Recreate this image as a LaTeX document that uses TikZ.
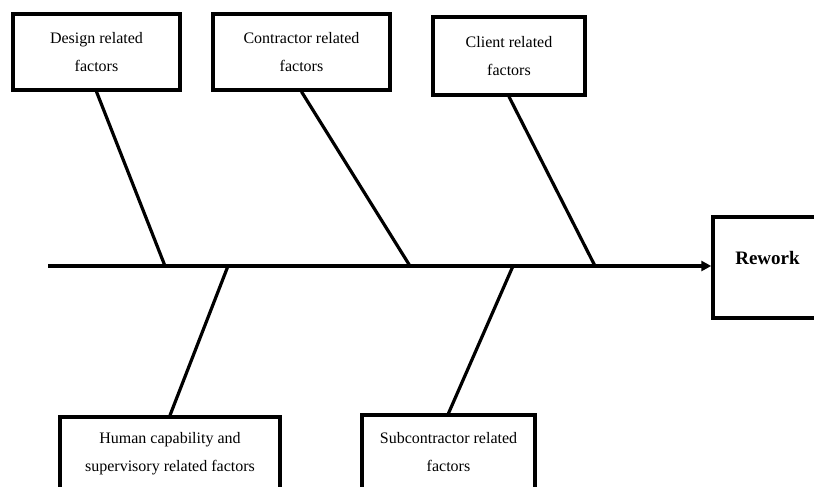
\documentclass[tikz,border=0pt]{standalone}
\usepackage{fontspec}
\setmainfont{Liberation Serif}
\usetikzlibrary{arrows.meta}

\begin{document}
\begin{tikzpicture}[x=1pt,y=-1pt,
  factor/.style={draw, line width=3.4pt, align=center, inner sep=0pt, font=\fontsize{16}{28}\selectfont},
  bone/.style={line width=3.2pt}]
\clip (0,0) rectangle (814,487);
\fill[white] (0,0) rectangle (814,487);

% cause boxes
\node[factor, minimum width=167, minimum height=76] (design) at (96.5,52) {Design related\\factors};
\node[factor, minimum width=177, minimum height=76] (contractor) at (301.5,52) {Contractor related\\factors};
\node[factor, minimum width=152, minimum height=78] (client) at (509,56) {Client related\\factors};
\node[factor, minimum width=220, minimum height=74] (human) at (170,454) {Human capability and\\supervisory related factors};
\node[factor, minimum width=173, minimum height=75] (sub) at (448.5,452.5) {Subcontractor related\\factors};
\node[factor, minimum width=109, minimum height=101,
  label={[font=\fontsize{19}{22}\selectfont\bfseries, yshift=10pt]center:Rework}] (rework) at (767.5,267.5) {};

% spine
\coordinate (tail) at (48,266);
\draw[bone, -{Triangle[length=10pt,width=10pt]}] (tail) -- (tail -| rework.west);

% bones
\foreach \n/\a/\xpos in {design/south/165, contractor/south/410, client/south/595, human/north/228, sub/north/513}
  \draw[bone] (\n.\a) -- (\xpos,266);
\end{tikzpicture}
\end{document}
